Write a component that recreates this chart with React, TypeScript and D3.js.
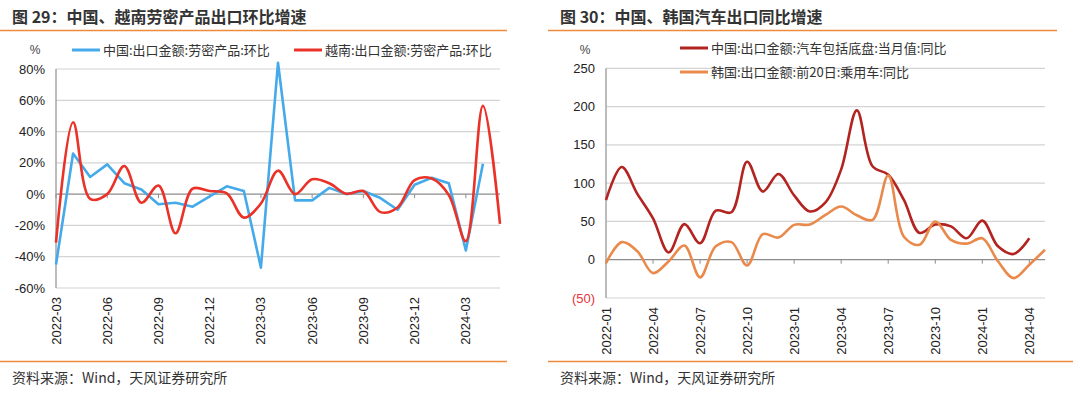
import React from 'react';
import * as d3 from 'd3';

// left chart: monthly 2022-03 .. 2024-05
const monthsL = d3.range(27).map(i => {
  const d = new Date(2022, 2 + i, 1);
  return `${d.getFullYear()}-${String(d.getMonth() + 1).padStart(2, '0')}`;
});
const chinaLabor = [-45, 26, 11, 19, 7, 3, -6.5, -5.5, -8, -1.5, 5, 2, -47, 84, -4, -4, 4, 0, 2, -2.5, -10, 6, 10.5, 7, -36, 19.5];
const vietnamLabor = [-31, 46, -3, 0, 18, -5.5, 5.5, -25, 3.5, 2, 0.5, -15, -6, 15, 0, 9.5, 7, 0.3, 2, -11.5, -8.5, 9, 10, -0.5, -30, 56.5, -19];
const yTicksL = [-60, -40, -20, 0, 20, 40, 60, 80];

// right chart: monthly 2022-01 .. 2024-05
const monthsR = d3.range(29).map(i => {
  const d = new Date(2022, i, 1);
  return `${d.getFullYear()}-${String(d.getMonth() + 1).padStart(2, '0')}`;
});
const chinaAuto = [78, 121, 86, 54, 9.5, 46.5, 21.5, 64, 62, 128, 89, 112, 84, 63, 75, 118, 195, 122, 111, 78, 35, 46, 43.5, 28, 51, 17.5, 7.5, 28];
const koreaCar = [-4.5, 23, 11, -17.5, -2, 18.5, -23, 17.5, 23, -7.5, 33.5, 29, 45.5, 46, 58.5, 69.5, 58, 52, 110, 30, 19.5, 50, 26, 21, 28, -2, -24, -6.5, 13];
const yTicksR = [-50, 0, 50, 100, 150, 200, 250];

const sans = '"Liberation Sans", Arial, sans-serif';
const cjk = '"Noto Sans CJK SC", sans-serif';
const orange = '#ee8a3c';

type Series = { name: string; values: number[]; color: string; smooth: boolean };

const Panel = ({ x0, title, cats, series, yTicks, yDomain, plot, legend, fmt, source, rule }: any) => {
  const x = d3.scalePoint<string>().domain(cats).range([plot.left, plot.right]);
  const y = d3.scaleLinear().domain(yDomain).range([plot.bottom, plot.top]);
  const tickCats = cats.filter((_: string, i: number) => i % 3 === 0);

  return (
    <g>
      <text x={x0 + 12} y={23} fontFamily={cjk} fontWeight="bold" fontSize={16} fill="#333">{title}</text>
      <line x1={rule[0]} x2={rule[1]} y1={30.5} y2={30.5} stroke={orange} strokeWidth={1.5} />
      <line x1={rule[0]} x2={rule[2]} y1={361.5} y2={361.5} stroke={orange} strokeWidth={1.5} />
      <text x={x0 + 12} y={383} fontFamily={cjk} fontSize={14} fill="#333">{source}</text>

      {/* gridlines */}
      {yTicks.map((t: number) => (
        <line key={t} x1={plot.left} x2={plot.right} y1={y(t)} y2={y(t)}
          stroke={t === 0 ? '#8c8c8c' : '#d4d4d4'} strokeWidth={1.2} />
      ))}
      <line x1={plot.left} x2={plot.left} y1={y(yDomain[1])} y2={y(yDomain[0])} stroke="#a6a6a6" strokeWidth={1.5} />
      {yTicks.map((t: number) => (
        <text key={'l' + t} x={plot.left - 11} y={y(t)} dy="0.35em" textAnchor="end"
          fontFamily={sans} fontSize={13} fill={t < 0 && fmt(t).startsWith('(') ? '#e8333a' : '#222'}>{fmt(t)}</text>
      ))}
      <text x={plot.left - 21} y={54} textAnchor="middle" fontFamily={sans} fontSize={12} fill="#444">%</text>

      {/* x ticks on the zero line, labels at bottom */}
      {tickCats.map((c: string) => (
        <g key={c}>
          <line x1={x(c)} x2={x(c)} y1={y(0)} y2={y(0) + 4} stroke="#8c8c8c" />
          <text transform={`translate(${x(c)},${plot.bottom + 9}) rotate(-90)`} textAnchor="end" dy="0.35em"
            fontFamily={sans} fontSize={13} fill="#222">{c}</text>
        </g>
      ))}

      {series.map((s: Series) => {
        const line = d3.line<number>()
          .x((_, i) => x(cats[i]) as number)
          .y(d => y(d))
          .curve(s.smooth ? d3.curveCatmullRom.alpha(0.5) : d3.curveLinear);
        return <path key={s.name} d={line(s.values) || ''} fill="none" stroke={s.color} strokeWidth={2.6} strokeLinejoin="round" />;
      })}

      {series.map((s: Series, i: number) => {
        const p = legend[i];
        return (
          <g key={'lg' + s.name}>
            <line x1={p[0]} x2={p[0] + 28} y1={p[1]} y2={p[1]} stroke={s.color} strokeWidth={3} />
            <text x={p[0] + 31} y={p[1]} dy="0.36em" fontFamily={cjk} fontSize={13} fill="#333">{s.name}</text>
          </g>
        );
      })}
    </g>
  );
};

export default function App() {
  const leftSeries: Series[] = [
    { name: '中国:出口金额:劳密产品:环比', values: chinaLabor, color: '#45aaea', smooth: false },
    { name: '越南:出口金额:劳密产品:环比', values: vietnamLabor, color: '#ea3228', smooth: true },
  ];
  const rightSeries: Series[] = [
    { name: '中国:出口金额:汽车包括底盘:当月值:同比', values: chinaAuto, color: '#b3231f', smooth: true },
    { name: '韩国:出口金额:前20日:乘用车:同比', values: koreaCar, color: '#e98a4c', smooth: true },
  ];
  return (
    <svg width={1080} height={399} style={{ position: 'absolute', left: 0, top: 0, background: '#fff' }}>
      <Panel x0={0} title="图 29：中国、越南劳密产品出口环比增速" cats={monthsL} series={leftSeries}
        yTicks={yTicksL} yDomain={[-60, 80]} plot={{ left: 56, right: 500, top: 69, bottom: 288 }}
        legend={[[72, 50], [294, 50]]} fmt={(t: number) => `${t}%`}
        source="资料来源：Wind，天风证券研究所" rule={[0, 507, 507]} />
      <Panel x0={548} title="图 30：中国、韩国汽车出口同比增速" cats={monthsR} series={rightSeries}
        yTicks={yTicksR} yDomain={[-50, 250]} plot={{ left: 606, right: 1045, top: 68.3, bottom: 298 }}
        legend={[[680, 48], [680, 72]]} fmt={(t: number) => (t < 0 ? `(${-t})` : `${t}`)}
        source="资料来源：Wind，天风证券研究所" rule={[548, 1057, 1073]} />
    </svg>
  );
}
